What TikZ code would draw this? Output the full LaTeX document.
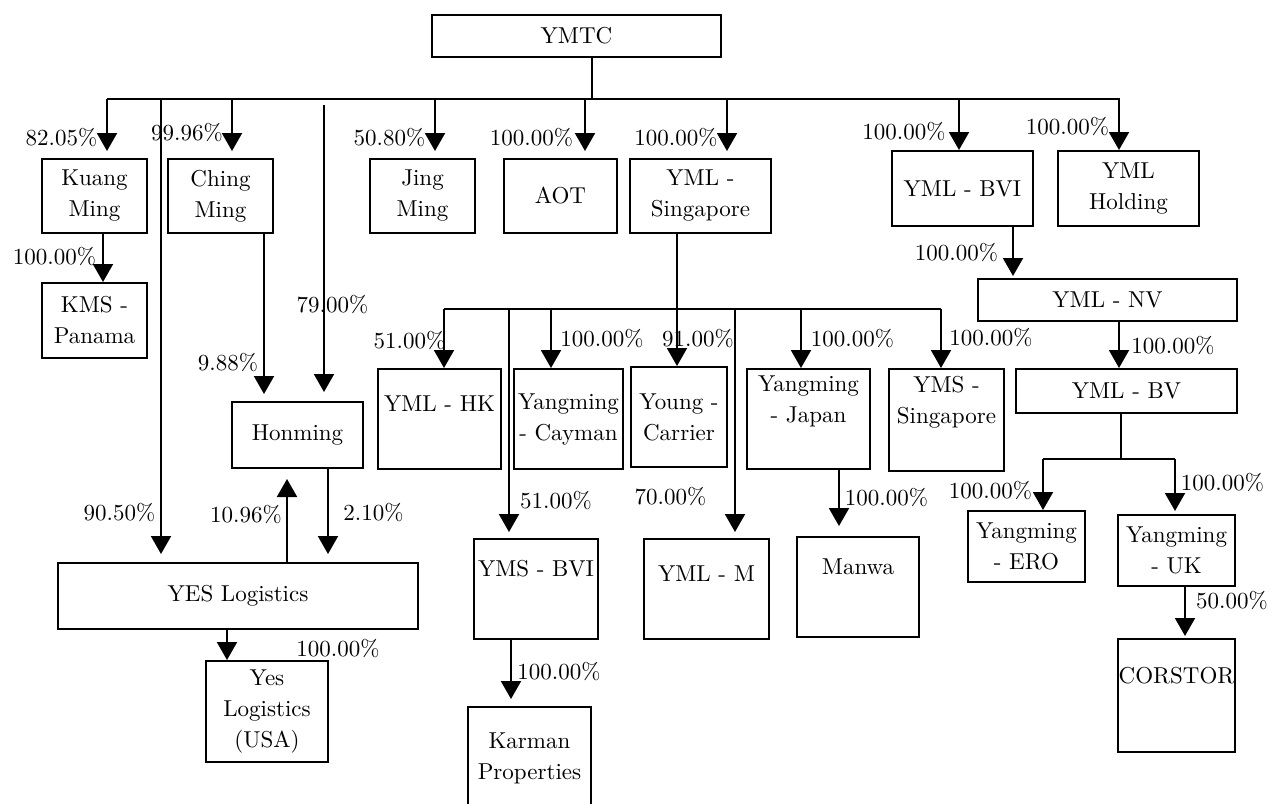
\documentclass[tikz,border=0pt]{standalone}
\usepackage{fontspec}
\setmainfont{lmroman10-regular}[Extension=.otf]
\usetikzlibrary{arrows.meta}
\begin{document}
\begin{tikzpicture}
  [x=1pt,y=-1pt,line width=2pt,font=\fontsize{23}{31}\selectfont,
   box/.style 2 args={draw,align=center,inner sep=0pt,minimum width=#1,minimum height=#2},
   arr/.style={-{Triangle[width=20pt,length=18pt]}},
   pct/.style={inner sep=0pt}]
  \useasboundingbox (0,0) rectangle (1271,803);
  \clip (0,0) rectangle (1271,803);

  \node[box={289pt}{42pt}] (ymtc) at (576.5,36) {YMTC};
  \node[box={105pt}{74pt}] (kuang) at (94.5,196) {Kuang\\Ming};
  \node[box={105pt}{74pt}] (ching) at (220.5,196) {Ching\\Ming};
  \node[box={105pt}{74pt}] (jing) at (422.5,196) {Jing\\Ming};
  \node[box={113pt}{74pt}] (aot) at (560.5,196) {AOT};
  \node[box={141pt}{74pt}] (ymlsg) at (700.5,196) {YML -\\Singapore};
  \node[box={141pt}{75pt}] (ymlbvi) at (962.5,188.5) {YML - BVI};
  \node[box={141pt}{75pt}] (ymlhold) at (1128.5,188.5) {YML\\Holding};
  \node[box={105pt}{75pt}] (kms) at (94.5,320.5) {KMS -\\Panama};
  \node[box={131pt}{66pt}] (honming) at (297.5,435) {Honming};
  \node[box={259pt}{42pt}] (ymlnv) at (1107.5,300) {YML - NV};
  \node[box={221pt}{44pt}] (ymlbv) at (1126.5,391) {YML - BV};
  \node[box={123pt}{100pt}] (ymlhk) at (439.5,419) {YML - HK\\~};
  \node[box={109pt}{100pt}] (cayman) at (568.5,419) {Yangming\\- Cayman};
  \node[box={96pt}{100pt}] (young) at (679,417) {Young -\\Carrier};
  \node[box={123pt}{100pt}] (japan) at (808.5,419) {Yangming\\- Japan\\\strut};
  \node[box={115pt}{102pt}] (ymssg) at (946.5,420) {YMS -\\Singapore\\\strut};
  \node[box={360pt}{66pt}] (yes) at (238,596) {YES Logistics};
  \node[box={122pt}{101pt}] (yesusa) at (267,711.5) {Yes\\Logistics\\(USA)};
  \node[box={124pt}{100pt}] (ymsbvi) at (536,589) {YMS - BVI\\\strut};
  \node[box={125pt}{100pt}] (ymlm) at (706.5,589) {YML - M\\~};
  \node[box={122pt}{100pt}] (manwa) at (858,587) {Manwa\\\strut};
  \node[box={123pt}{102pt}] (karman) at (529.5,758) {Karman\\Properties};
  \node[box={117pt}{71pt}] (ero) at (1026.5,546.5) {Yangming\\- ERO};
  \node[box={117pt}{71pt}] (uk) at (1176.5,550.5) {Yangming\\- UK};
  \node[box={117pt}{113pt}] (corstor) at (1176.5,695.5) {CORSTOR\\\strut};

  \coordinate (busL) at (107,99);
  \coordinate (busR) at (1120,99);
  \coordinate (top) at (592,99);
  \draw (busL) -- (busR);
  \draw (ymtc.south -| top) -- (top);
  \foreach \x/\n/\s in {107/kuang/7,232/ching/7,435/jing/7,585/aot/7,727/ymlsg/7,959/ymlbvi/0,1119/ymlhold/0} {
    \coordinate (d-\n) at (\x,99);
    \draw[arr,shorten >=\s pt] (d-\n) -- (d-\n |- \n.north);
  }
  \coordinate (d-yes) at (161,99);
  \coordinate (d-hon) at (324,105);
  \draw[arr,shorten >=8pt] (d-yes) -- (d-yes |- yes.north);
  \draw[arr,shorten >=9pt] (d-hon) -- (d-hon |- honming.north);

  \draw[arr] ([xshift=8.5pt]kuang.south) -- ([xshift=8.5pt]kuang.south |- kms.north);
  \draw[arr,shorten >=7pt] ([xshift=43.5pt]ching.south) -- ([xshift=43.5pt]ching.south |- honming.north);
  \draw[arr,shorten >=10pt] ([xshift=49pt]yes.north) -- ([xshift=49pt]yes.north |- honming.south);
  \draw[arr,shorten >=8pt] ([xshift=30.5pt]honming.south) -- ([xshift=30.5pt]honming.south |- yes.north);
  \draw[arr] ([xshift=-11pt]yes.south) -- ([xshift=-11pt]yes.south |- yesusa.north);

  \draw[arr] ([xshift=-23.5pt]ymlsg.south) -- ([xshift=-23.5pt]ymlsg.south |- young.north);
  \coordinate (busL2) at (444,309);
  \coordinate (busR2) at (941,309);
  \draw (busL2) -- (busR2);
  \foreach \x/\n/\s in {444/ymlhk/0,509/ymsbvi/6,551/cayman/0,735/ymlm/6,801/japan/0,941/ymssg/0} {
    \coordinate (d-\n) at (\x,309);
    \draw[arr,shorten >=\s pt] (d-\n) -- (d-\n |- \n.north);
  }
  \draw[arr,shorten >=10pt] ([xshift=30.5pt]japan.south) -- ([xshift=30.5pt]japan.south |- manwa.north);
  \draw[arr,shorten >=7pt] ([xshift=-25pt]ymsbvi.south) -- ([xshift=-25pt]ymsbvi.south |- karman.north);

  \draw[arr,shorten >=2pt] ([xshift=50.5pt]ymlbvi.south) -- ([xshift=50.5pt]ymlbvi.south |- ymlnv.north);
  \draw[arr] ([xshift=11.5pt]ymlnv.south) -- ([xshift=11.5pt]ymlnv.south |- ymlbv.north);
  \coordinate (busL3) at (1043,459);
  \coordinate (busR3) at (1175,459);
  \draw ([xshift=-5.5pt]ymlbv.south) -- ([xshift=-5.5pt]ymlbv.south |- busL3);
  \draw (busL3) -- (busR3);
  \draw[arr] (busL3) -- (busL3 |- ero.north);
  \draw[arr,shorten >=3pt] (busR3) -- (busR3 |- uk.north);
  \draw[arr,shorten >=2pt] ([xshift=8.5pt]uk.south) -- ([xshift=8.5pt]uk.south |- corstor.north);

  \foreach \x/\y/\val [count=\i] in {61.5/138/82.05,187/133/99.96,332.5/305/79.00,389.5/138/50.80,
      531.5/138/100.00,676/138/100.00,904/132/100.00,1067.5/127/100.00,54.5/257/100.00,
      228/363/9.88,119.5/513/90.50,246/515/10.96,373.5/513/2.10,338/649/100.00,
      409.5/341/51.00,556/501/51.00,602/339/100.00,698/339/91.00,670.5/497/70.00,
      852.5/339/100.00,991/338/100.00,886.5/498/100.00,559/672/100.00,956.5/253/100.00,
      1173/346/100.00,990.5/491/100.00,1222.5/483/100.00,1232/601/50.00}
    \node[pct] (pct\i) at (\x,\y) {\val\%};
\end{tikzpicture}
\end{document}
